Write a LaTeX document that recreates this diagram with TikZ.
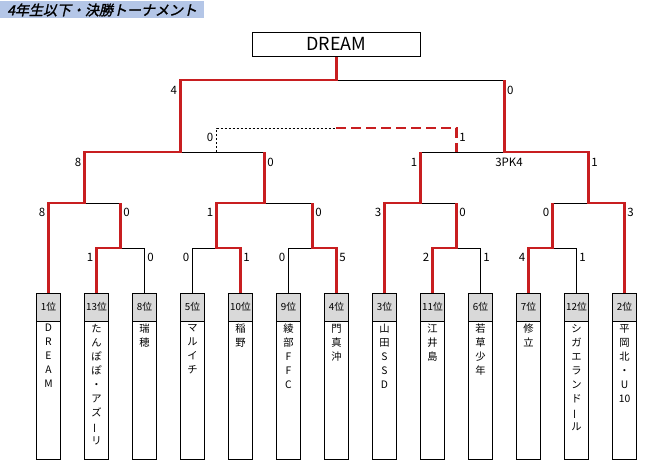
\documentclass[tikz,border=0pt]{standalone}
\usepackage{fontspec}
\setmainfont{Noto Sans CJK JP}
\newfontfamily\titlefont[FakeSlant=0.22,FakeBold=1.6]{Noto Sans CJK JP}
\definecolor{winred}{RGB}{200,30,32}
\definecolor{hdrgray}{RGB}{217,217,217}
\definecolor{titlebg}{RGB}{180,198,231}
\newcommand\vbar{\rotatebox[origin=c]{90}{ー}}
\newcommand\teambox[3]{%
  \node[hdr] (h#1) at ({48.5+48*(#1-1)},307) {#2};
  \node[bodybox,anchor=north] (b#1) at (h#1.south) {};
  \node[namet] (n#1) at ({48.5+48*(#1-1)},324) {#3};
}
\begin{document}
\begin{tikzpicture}[x=1pt,y=-1pt,
  lose/.style={draw=black,line width=0.8pt},
  win/.style={draw=winred,line width=2.6pt},
  hdr/.style={draw=black,line width=0.8pt,fill=hdrgray,minimum width=24pt,minimum height=28pt,inner sep=0pt,font=\fontsize{9.8}{10}\selectfont},
  bodybox/.style={draw=black,line width=0.8pt,fill=white,minimum width=24pt,minimum height=138pt,inner sep=0pt},
  namet/.style={anchor=north,inner sep=0pt,align=center,font=\fontsize{10.3}{14}\selectfont},
  score/.style={inner sep=0pt,font=\fontsize{11.5}{12}\selectfont},
  champbox/.style={draw=black,line width=0.8pt,minimum width=168pt,minimum height=24pt,inner sep=0pt,font=\fontsize{18}{20}\selectfont},
  titlet/.style={anchor=west,inner sep=0pt,font=\titlefont\fontsize{14}{14}\selectfont}
  ]
\useasboundingbox (0,0) rectangle (661,474);
\fill[white] (0,0) rectangle (661,474);
% title
\fill[titlebg] (0,1) rectangle (204,18);
\node[titlet] (title) at (7,10) {4年生以下・決勝トーナメント};
% champion
\node[champbox] (champ) at (336.3,44.3) {DREAM};
% teams
\teambox{1}{1位}{D\\R\\E\\A\\M}
\teambox{2}{13位}{た\\ん\\ぽ\\ぽ\\・\\ア\\ズ\\\vbar\\リ}
\teambox{3}{8位}{瑞\\穂}
\teambox{4}{5位}{マ\\ル\\イ\\チ}
\teambox{5}{10位}{稲\\野}
\teambox{6}{9位}{綾\\部\\F\\F\\C}
\teambox{7}{4位}{門\\真\\沖}
\teambox{8}{3位}{山\\田\\S\\S\\D}
\teambox{9}{11位}{江\\井\\島}
\teambox{10}{6位}{若\\草\\少\\年}
\teambox{11}{7位}{修\\立}
\teambox{12}{12位}{シ\\ガ\\エ\\ラ\\ン\\ド\\\vbar\\ル}
\teambox{13}{2位}{平\\岡\\北\\・\\U\\10}
% junctions
\coordinate (j23) at (120.5,248);
\coordinate (j45) at (216.5,248);
\coordinate (j67) at (312.5,248);
\coordinate (j910) at (456.5,248);
\coordinate (j1112) at (552.5,248);
\coordinate (j123) at (84.5,203);
\coordinate (j4567) at (264.5,203);
\coordinate (j8910) at (420.5,203);
\coordinate (j111213) at (588.5,203);
\coordinate (jL3) at (180.5,152);
\coordinate (jR3) at (504.5,152);
\coordinate (fin) at (336.3,80);
\coordinate (d1) at (216.5,152);
\coordinate (dm) at (336.3,128);
\coordinate (d2) at (456.5,152);
% losing lines
\draw[lose] (h3.north) |- (j23);
\draw[lose] (h4.north) |- (j45);
\draw[lose] (h6.north) |- (j67);
\draw[lose] (h10.north) |- (j910);
\draw[lose] (h12.north) |- (j1112);
\draw[lose] (j23 |- j123) -- (j123);
\draw[lose] (j67 |- j4567) -- (j4567);
\draw[lose] (j910 |- j8910) -- (j8910);
\draw[lose] (j1112 |- j111213) -- (j111213);
\draw[lose] (j4567 |- jL3) -- (jL3);
\draw[lose] (j8910 |- jR3) -- (jR3);
\draw[lose] (jR3 |- fin) -- (fin);
% third place (dashed)
\draw[lose,line width=0.7pt,dash pattern=on 2pt off 2pt] (d1) |- (dm);
\draw[win,dash pattern=on 10pt off 5pt] (dm) -| (d2);
% winning lines
\draw[win] (h1.north) |- (j123) |- (jL3) |- (fin) -- (champ.south);
\draw[win] (h2.north) |- (j23) -- (j23 |- j123);
\draw[win] (h5.north) |- (j45) |- (j4567) -- (j4567 |- jL3);
\draw[win] (h7.north) |- (j67) -- (j67 |- j4567);
\draw[win] (h8.north) |- (j8910) -- (j8910 |- jR3);
\draw[win] (h9.north) |- (j910) -- (j910 |- j8910);
\draw[win] (h11.north) |- (j1112) -- (j1112 |- j111213);
\draw[win] (h13.north) |- (j111213) |- (jR3) -- (jR3 |- fin);
% scores
\node[score] (s41) at (173.7,90) {4};
\node[score] (s42) at (510.3,90) {0};
\node[score] (sd1) at (210,137.5) {0};
\node[score] (sd2) at (462.5,137.5) {1};
\node[score] (s31) at (78,162) {8};
\node[score] (s32) at (270.5,162) {0};
\node[score] (s33) at (414,162) {1};
\node[score] (s34) at (594.5,162) {1};
\node[score] (spk) at (509,162) {3PK4};
\node[score] (s21) at (42,212.7) {8};
\node[score] (s22) at (126.5,212.7) {0};
\node[score] (s23) at (210,212.7) {1};
\node[score] (s24) at (318.5,212.7) {0};
\node[score] (s25) at (378,212.7) {3};
\node[score] (s26) at (462.5,212.7) {0};
\node[score] (s27) at (546,212.7) {0};
\node[score] (s28) at (630.5,212.7) {3};
\node[score] (s11) at (90,257.7) {1};
\node[score] (s12) at (150.5,257.7) {0};
\node[score] (s13) at (186,257.7) {0};
\node[score] (s14) at (246.5,257.7) {1};
\node[score] (s15) at (282,257.7) {0};
\node[score] (s16) at (342.5,257.7) {5};
\node[score] (s17) at (426,257.7) {2};
\node[score] (s18) at (486.5,257.7) {1};
\node[score] (s19) at (522,257.7) {4};
\node[score] (s110) at (582.5,257.7) {1};
\end{tikzpicture}
\end{document}
